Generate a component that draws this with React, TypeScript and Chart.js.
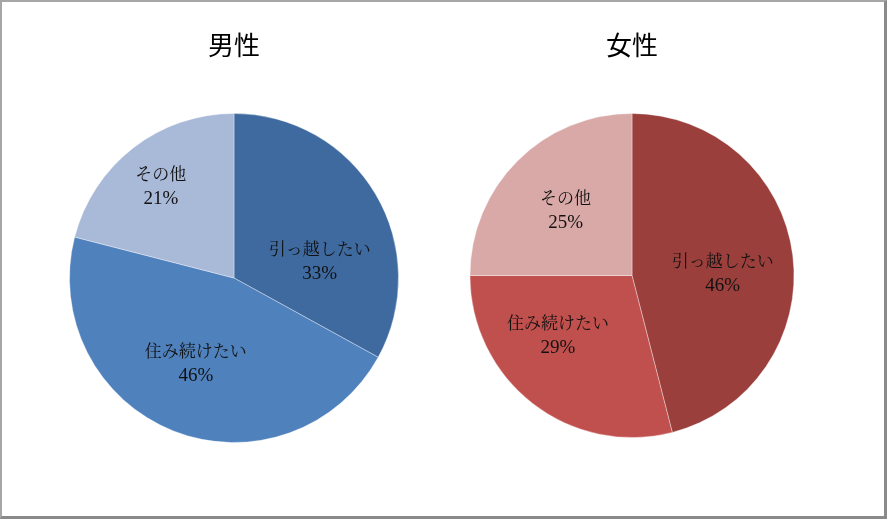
import React, { useEffect, useRef } from 'react';
import { Chart, registerables } from 'chart.js';

Chart.register(...registerables);

const categories = ['引っ越したい', '住み続けたい', 'その他'];
const maleTitle = '男性';
const femaleTitle = '女性';
const maleValues = [33, 46, 21];
const femaleValues = [46, 29, 25];
const maleColors = ['#3F6A9F', '#4F81BD', '#A9B9D8'];
const femaleColors = ['#9B3F3D', '#C0504D', '#D9A9A7'];

// label placement hints relative to each slice: [angle shift (deg), radius fraction]
const maleLabelPlace = [[20, 0.53], [2.4, 0.57], [-1, 0.71]];
const femaleLabelPlace = [[6, 0.56], [13, 0.59], [-1, 0.57]];

const labelFont = '17px "Liberation Serif", "Noto Serif CJK JP", "Noto Sans CJK JP", serif';
const pctFont = '19px "Liberation Serif", "DejaVu Serif", serif';
const titleFont = '26px "Noto Sans CJK JP", "Noto Sans", sans-serif';

const pieLabelsPlugin = {
  id: 'pieLabels',
  afterDatasetsDraw(chart: any, _args: any, opts: any) {
    const ctx = chart.ctx;
    const meta = chart.getDatasetMeta(0);
    const ds = chart.data.datasets[0];
    const place = opts.place || [];
    ctx.save();
    ctx.fillStyle = '#111';
    ctx.textAlign = 'center';
    ctx.textBaseline = 'middle';
    meta.data.forEach((arc: any, i: number) => {
      const p = arc.getProps(['x', 'y', 'startAngle', 'endAngle', 'outerRadius'], true);
      const [dA, f] = place[i] || [0, 0.6];
      const mid = (p.startAngle + p.endAngle) / 2 + (dA * Math.PI) / 180;
      const cx = p.x + Math.cos(mid) * p.outerRadius * f;
      const cy = p.y + Math.sin(mid) * p.outerRadius * f;
      ctx.font = labelFont;
      ctx.fillText(String(chart.data.labels[i]), cx, cy - 11.5);
      ctx.font = pctFont;
      ctx.fillText(ds.data[i] + '%', cx, cy + 12);
    });
    ctx.restore();
  },
};

const titlePlugin = {
  id: 'topTitle',
  afterDraw(chart: any, _args: any, opts: any) {
    const ctx = chart.ctx;
    ctx.save();
    ctx.font = titleFont;
    ctx.fillStyle = '#000';
    ctx.textAlign = 'center';
    ctx.textBaseline = 'middle';
    ctx.fillText(opts.text, chart.width / 2, opts.y);
    ctx.restore();
  },
};

function PieChart(props: {
  title: string;
  values: number[];
  colors: string[];
  place: number[][];
  padding: { top: number; bottom: number; left: number; right: number };
  style: React.CSSProperties;
}) {
  const ref = useRef<HTMLCanvasElement>(null);
  useEffect(() => {
    if (!ref.current) return;
    const chart = new Chart(ref.current, {
      type: 'pie',
      data: {
        labels: categories,
        datasets: [
          {
            data: props.values,
            backgroundColor: props.colors,
            borderColor: 'rgba(255,255,255,0.35)',
            borderWidth: 1,
          },
        ],
      },
      options: {
        animation: false,
        responsive: false,
        maintainAspectRatio: false,
        layout: { padding: props.padding },
        plugins: {
          legend: { display: false },
          tooltip: { enabled: false },
          title: { display: false },
          pieLabels: { place: props.place },
          topTitle: { text: props.title, y: 45 },
        } as any,
      },
      plugins: [pieLabelsPlugin, titlePlugin],
    });
    return () => chart.destroy();
  }, []);
  return <canvas ref={ref} width={400} height={519} style={props.style} />;
}

export default function App() {
  useEffect(() => {
    document.body.style.margin = '0';
  }, []);
  return (
    <div style={{ position: 'absolute', left: 0, top: 0, width: 887, height: 519, background: '#fff' }}>
      <div
        style={{
          position: 'absolute',
          left: 0,
          top: 0,
          width: 882,
          height: 514,
          borderLeft: '2px solid #A6A6A6',
          borderTop: '2px solid #A6A6A6',
          borderRight: '3px solid #8A8A8A',
          borderBottom: '3px solid #8A8A8A',
        }}
      />
      <PieChart
        title={maleTitle}
        values={maleValues}
        colors={maleColors}
        place={maleLabelPlace}
        padding={{ top: 113, bottom: 76, left: 35, right: 35 }}
        style={{ position: 'absolute', left: 34, top: 0, width: 400, height: 519 }}
      />
      <PieChart
        title={femaleTitle}
        values={femaleValues}
        colors={femaleColors}
        place={femaleLabelPlace}
        padding={{ top: 113, bottom: 81, left: 37, right: 37 }}
        style={{ position: 'absolute', left: 432, top: 0, width: 400, height: 519 }}
      />
    </div>
  );
}
